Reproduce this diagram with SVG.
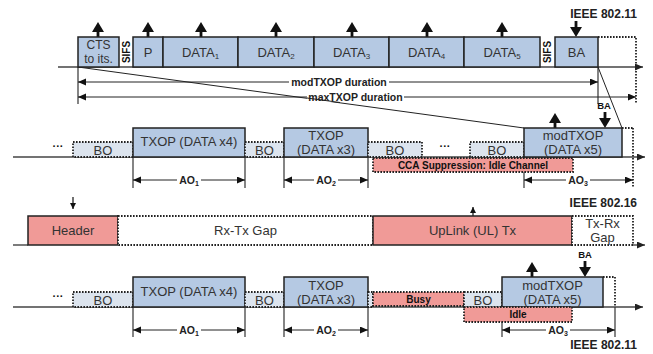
<svg xmlns="http://www.w3.org/2000/svg" width="653" height="354" viewBox="0 0 653 354">
<defs>
<marker id="big" markerUnits="userSpaceOnUse" markerWidth="11" markerHeight="12" refX="4" refY="6" orient="auto"><path d="M0,0 L10,6 L0,12 z" fill="#111"/></marker>
<marker id="sm" markerUnits="userSpaceOnUse" markerWidth="9" markerHeight="8" refX="8" refY="3.5" orient="auto-start-reverse"><path d="M0,0 L8,3.5 L0,7 z" fill="#111"/></marker>
<marker id="ax" markerUnits="userSpaceOnUse" markerWidth="9" markerHeight="8" refX="8" refY="3.5" orient="auto"><path d="M0,0 L8,3.5 L0,7 z" fill="#222"/></marker>
<marker id="thin" markerUnits="userSpaceOnUse" markerWidth="7" markerHeight="7" refX="6" refY="3" orient="auto"><path d="M0,0 L6,3 L0,6 z" fill="#111"/></marker>
</defs>
<style>
text{font-family:"Liberation Sans",Arial,sans-serif;fill:#333}
.t{font-size:13px;text-anchor:middle}
.b{font-weight:bold;fill:#111}
.lb{font-size:10.5px;text-anchor:middle;font-weight:bold;fill:#222}
.ie{font-size:12px;font-weight:bold;text-anchor:end;fill:#222}
.blue{fill:#b5c9e3;stroke:#222;stroke-width:1.5}
.bo{fill:#dce4ee;stroke:#222;stroke-width:1.8;stroke-dasharray:1.6 1.4}
.dot{fill:none;stroke:#222;stroke-width:1.8;stroke-dasharray:1.6 1.4}
.wdot{fill:#fff;stroke:#222;stroke-width:1.8;stroke-dasharray:1.6 1.4}
.red{fill:#f09a97;stroke:#222;stroke-width:1.5}
.rdot{fill:#f09a97;stroke:#222;stroke-width:1.8;stroke-dasharray:1.6 1.4}
.base{stroke:#444;stroke-width:1.4;fill:none}
.thk{stroke:#111;stroke-width:2.8;fill:none}
.dim{stroke:#222;stroke-width:1;fill:none}
.vl{stroke:#333;stroke-width:1.2;fill:none}
</style>

<g id="connectors">
  <line class="base" x1="58" y1="67" x2="643" y2="67" marker-end="url(#ax)"/>
  <line class="vl" x1="78" y1="67" x2="78" y2="104"/>
  <line class="vl" x1="598" y1="67" x2="598" y2="104"/>
  <line class="dim" x1="78" y1="82" x2="598" y2="82" marker-start="url(#sm)" marker-end="url(#sm)"/>
  <line class="dim" x1="78" y1="97" x2="636" y2="97" marker-start="url(#sm)" marker-end="url(#sm)"/>
  <line class="dim" x1="78" y1="67" x2="524" y2="128"/>
  <line class="dim" x1="598" y1="67" x2="622" y2="128"/>
  <g class="thk">
    <line x1="98" y1="37" x2="98" y2="28" marker-end="url(#big)"/>
    <line x1="148" y1="37" x2="148" y2="28" marker-end="url(#big)"/>
    <line x1="201" y1="37" x2="201" y2="28" marker-end="url(#big)"/>
    <line x1="276" y1="37" x2="276" y2="28" marker-end="url(#big)"/>
    <line x1="352" y1="37" x2="352" y2="28" marker-end="url(#big)"/>
    <line x1="427" y1="37" x2="427" y2="28" marker-end="url(#big)"/>
    <line x1="502" y1="37" x2="502" y2="28" marker-end="url(#big)"/>
    <line x1="576" y1="21" x2="576" y2="31" marker-end="url(#big)"/>
  </g>
  <line class="base" x1="13" y1="157" x2="645" y2="157" marker-end="url(#ax)"/>
  <g class="thk">
    <line x1="555" y1="128" x2="555" y2="119" marker-end="url(#big)"/>
    <line x1="605" y1="112" x2="605" y2="122" marker-end="url(#big)"/>
  </g>
  <g class="vl">
    <line x1="133" y1="157" x2="133" y2="188"/><line x1="245" y1="157" x2="245" y2="188"/>
    <line x1="284" y1="157" x2="284" y2="188"/><line x1="368" y1="157" x2="368" y2="188"/>
    <line x1="524" y1="157" x2="524" y2="188"/>
  </g>
  <line class="dot" x1="633" y1="128" x2="633" y2="188"/>
  <line class="dim" x1="133" y1="180" x2="245" y2="180" marker-start="url(#sm)" marker-end="url(#sm)"/>
  <line class="dim" x1="284" y1="180" x2="368" y2="180" marker-start="url(#sm)" marker-end="url(#sm)"/>
  <line class="dim" x1="524" y1="180" x2="633" y2="180" marker-start="url(#sm)" marker-end="url(#sm)"/>
  <line class="base" x1="13" y1="245" x2="28" y2="245"/>
  <line class="base" x1="633" y1="245" x2="645" y2="245" marker-end="url(#ax)"/>
  <line stroke="#111" stroke-width="1.2" x1="73" y1="197" x2="73" y2="209" marker-end="url(#thin)"/>
  <line stroke="#111" stroke-width="1.2" x1="473" y1="216" x2="473" y2="207" marker-end="url(#thin)"/>
  <line class="base" x1="13" y1="307" x2="643" y2="307" marker-end="url(#ax)"/>
  <g class="thk">
    <line x1="532" y1="277" x2="532" y2="268" marker-end="url(#big)"/>
    <line x1="585" y1="261" x2="585" y2="271" marker-end="url(#big)"/>
  </g>
  <g class="vl">
    <line x1="133" y1="307" x2="133" y2="337"/><line x1="245" y1="307" x2="245" y2="337"/>
    <line x1="284" y1="307" x2="284" y2="337"/><line x1="368" y1="307" x2="368" y2="337"/>
    <line x1="502" y1="307" x2="502" y2="337"/><line x1="615" y1="307" x2="615" y2="337"/>
  </g>
  <line class="dim" x1="133" y1="330" x2="245" y2="330" marker-start="url(#sm)" marker-end="url(#sm)"/>
  <line class="dim" x1="284" y1="330" x2="368" y2="330" marker-start="url(#sm)" marker-end="url(#sm)"/>
  <line class="dim" x1="502" y1="330" x2="615" y2="330" marker-start="url(#sm)" marker-end="url(#sm)"/>
</g>

<g id="cts"><rect class="blue" x="78" y="37" width="41" height="30"/><text class="t" font-size="12" style="font-size:12px" x="98.5" y="49">CTS</text><text class="t" style="font-size:12px" x="98.5" y="63">to its.</text></g>
<g id="sifs1"><text class="b" font-size="10" text-anchor="middle" transform="translate(129.8,52) rotate(-90)">SIFS</text></g>
<g id="p"><rect class="blue" x="133" y="37" width="30" height="30"/><text class="t" x="148" y="57">P</text></g>
<g id="data1"><rect class="blue" x="163" y="37" width="75" height="30"/><text class="t" x="200.5" y="57">DATA<tspan font-size="8" dy="2">1</tspan></text></g>
<g id="data2"><rect class="blue" x="238" y="37" width="76" height="30"/><text class="t" x="276" y="57">DATA<tspan font-size="8" dy="2">2</tspan></text></g>
<g id="data3"><rect class="blue" x="314" y="37" width="75" height="30"/><text class="t" x="351.5" y="57">DATA<tspan font-size="8" dy="2">3</tspan></text></g>
<g id="data4"><rect class="blue" x="389" y="37" width="75" height="30"/><text class="t" x="426.5" y="57">DATA<tspan font-size="8" dy="2">4</tspan></text></g>
<g id="data5"><rect class="blue" x="464" y="37" width="76" height="30"/><text class="t" x="502" y="57">DATA<tspan font-size="8" dy="2">5</tspan></text></g>
<g id="sifs2"><text class="b" font-size="10" text-anchor="middle" transform="translate(551,52) rotate(-90)">SIFS</text></g>
<g id="ba"><rect class="blue" x="555" y="37" width="43" height="30"/><text class="t" x="576.5" y="57">BA</text></g>
<g id="ba-ext"><path class="dot" d="M598,37 H636 V104"/></g>
<g id="ieee-top"><text class="ie" x="637" y="18">IEEE 802.11</text></g>
<g id="mod-label"><rect x="289" y="76" width="100" height="11" fill="#fff"/><text class="lb" x="339" y="86">modTXOP duration</text></g>
<g id="max-label"><rect x="307" y="91" width="97" height="11" fill="#fff"/><line class="dim" x1="307" y1="98" x2="340" y2="102.5"/><text class="lb" x="355.5" y="101">maxTXOP duration</text></g>

<g id="m-dots"><text class="b" font-size="11" text-anchor="middle" x="58" y="150">···</text></g>
<g id="m-bo1"><rect class="bo" x="73" y="142" width="60" height="15"/><text class="t" x="103" y="155">BO</text></g>
<g id="m-txop4"><rect class="blue" x="133" y="128" width="112" height="29"/><text class="t" x="189" y="146">TXOP (DATA x4)</text></g>
<g id="m-bo2"><rect class="bo" x="245" y="142" width="39" height="15"/><text class="t" x="264.5" y="155">BO</text></g>
<g id="m-txop3"><rect class="blue" x="284" y="128" width="84" height="29"/><text class="t" x="326" y="140">TXOP</text><text class="t" x="326" y="154">(DATA x3)</text></g>
<g id="m-bo3"><rect class="bo" x="368" y="142" width="54" height="15"/><text class="t" x="395" y="155">BO</text></g>
<g id="m-dots2"><text class="b" font-size="11" text-anchor="middle" x="445" y="150">···</text></g>
<g id="m-bo4"><rect class="bo" x="470" y="142" width="54" height="15"/><text class="t" x="497" y="155">BO</text></g>
<g id="m-modtxop"><rect class="blue" x="524" y="128" width="98" height="29"/><text class="t" x="573" y="140">modTXOP</text><text class="t" x="573" y="154">(DATA x5)</text></g>
<g id="m-ext"><path class="dot" d="M622,128 H633"/></g>
<g id="m-ba"><text class="b" font-size="9.5" text-anchor="middle" x="604" y="109">BA</text></g>
<g id="cca"><rect class="rdot" x="373" y="158" width="200" height="14"/><text class="b" font-size="10" text-anchor="middle" x="473" y="168.5">CCA Suppression: Idle Channel</text></g>
<g id="m-ao1"><rect x="177" y="175" width="24" height="12" fill="#fff"/><text class="lb" x="189" y="184">AO<tspan font-size="7" dy="2">1</tspan></text></g>
<g id="m-ao2"><rect x="314" y="175" width="24" height="12" fill="#fff"/><text class="lb" x="326" y="184">AO<tspan font-size="7" dy="2">2</tspan></text></g>
<g id="m-ao3"><rect x="566" y="175" width="24" height="12" fill="#fff"/><text class="lb" x="578" y="184">AO<tspan font-size="7" dy="2">3</tspan></text></g>

<g id="ieee16"><text class="ie" x="637" y="207">IEEE 802.16</text></g>
<g id="header"><rect class="red" x="28" y="216" width="90" height="29"/><text class="t" x="73" y="235">Header</text></g>
<g id="rxtx"><rect class="wdot" x="118" y="216" width="255" height="29"/><text class="t" x="245.5" y="235">Rx-Tx Gap</text></g>
<g id="uplink"><rect class="red" x="373" y="216" width="199" height="29"/><text class="t" x="472.5" y="235">UpLink (UL) Tx</text></g>
<g id="txrx"><rect class="wdot" x="572" y="216" width="61" height="29"/><text class="t" x="602.5" y="228">Tx-Rx</text><text class="t" x="602.5" y="242">Gap</text></g>

<g id="b-dots"><text class="b" font-size="11" text-anchor="middle" x="58" y="300">···</text></g>
<g id="b-bo1"><rect class="bo" x="73" y="292" width="60" height="15"/><text class="t" x="103" y="305">BO</text></g>
<g id="b-txop4"><rect class="blue" x="133" y="277" width="112" height="30"/><text class="t" x="189" y="296">TXOP (DATA x4)</text></g>
<g id="b-bo2"><rect class="bo" x="245" y="292" width="39" height="15"/><text class="t" x="264.5" y="305">BO</text></g>
<g id="b-txop3"><rect class="blue" x="284" y="277" width="84" height="30"/><text class="t" x="326" y="290">TXOP</text><text class="t" x="326" y="304">(DATA x3)</text></g>
<g id="b-gap"><rect class="bo" x="368" y="292" width="5" height="15"/></g>
<g id="busy"><rect class="rdot" x="373" y="292" width="91" height="14"/><text class="b" font-size="10" text-anchor="middle" x="418.5" y="302.5">Busy</text></g>
<g id="b-bo3"><rect class="bo" x="464" y="292" width="38" height="15"/><text class="t" x="483" y="305">BO</text></g>
<g id="b-modtxop"><rect class="blue" x="502" y="277" width="101" height="30"/><text class="t" x="552.5" y="290">modTXOP</text><text class="t" x="552.5" y="304">(DATA x5)</text></g>
<g id="b-ext"><path class="dot" d="M603,277 H615 V307"/></g>
<g id="idle"><rect class="rdot" x="464" y="307" width="108" height="15"/><text class="b" font-size="10" text-anchor="middle" x="518" y="318">Idle</text></g>
<g id="b-ba"><text class="b" font-size="9.5" text-anchor="middle" x="585" y="258">BA</text></g>
<g id="b-ao1"><rect x="177" y="325" width="24" height="12" fill="#fff"/><text class="lb" x="189" y="334">AO<tspan font-size="7" dy="2">1</tspan></text></g>
<g id="b-ao2"><rect x="314" y="325" width="24" height="12" fill="#fff"/><text class="lb" x="326" y="334">AO<tspan font-size="7" dy="2">2</tspan></text></g>
<g id="b-ao3"><rect x="546" y="325" width="24" height="12" fill="#fff"/><text class="lb" x="558" y="334">AO<tspan font-size="7" dy="2">3</tspan></text></g>
<g id="ieee-bot"><text class="ie" x="637" y="349">IEEE 802.11</text></g>
</svg>
